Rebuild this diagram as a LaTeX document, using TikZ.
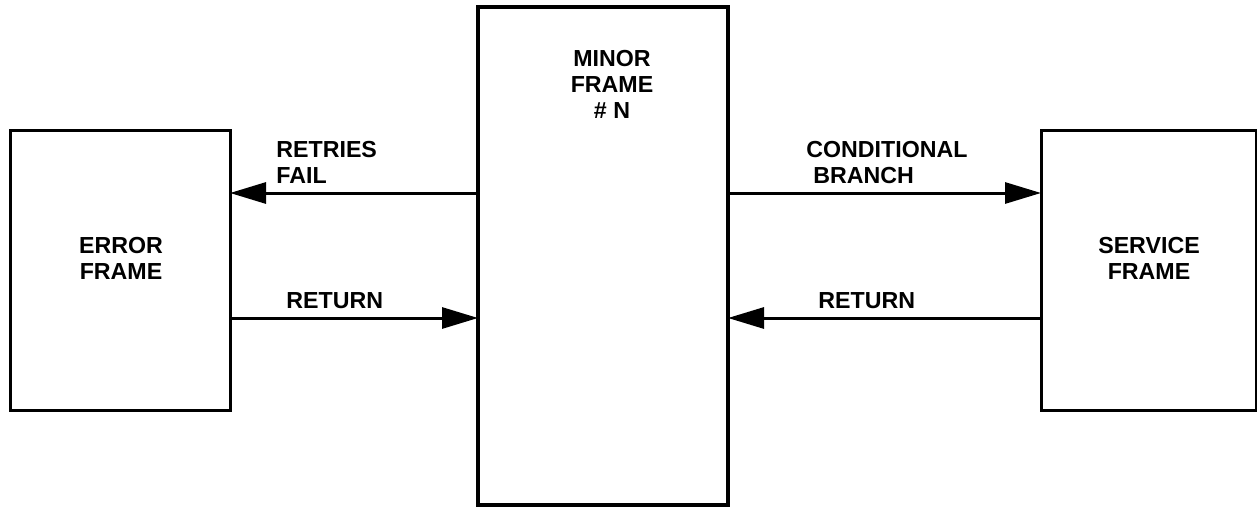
\documentclass[tikz,border=0pt]{standalone}
\usepackage{fontspec}
\setmainfont{Liberation Sans}
\usetikzlibrary{arrows.meta}
\begin{document}
\begin{tikzpicture}[x=0.5pt,y=-0.5pt,
  frame/.style={draw,line width=1.5pt,outer sep=0pt,inner sep=0pt},
  txt/.style={font=\fontsize{11.6}{13}\selectfont\bfseries,inner sep=0pt,align=center,anchor=north},
  lbl/.style={font=\fontsize{11.6}{13}\selectfont\bfseries,inner sep=0pt,align=left,anchor=north west},
  flow/.style={line width=1.5pt,-{Triangle[length=18pt,width=10.5pt]}}]
  \useasboundingbox (0,0) rectangle (1257,508);
% the three frames
  \node[frame,minimum width=110pt,minimum height=140pt] (error) at (120,270) {};
  \node[frame,line width=1.7pt,minimum width=125pt,minimum height=249pt] (minor) at (603,256) {};
  \node[frame,minimum width=107.5pt,minimum height=140pt] (service) at (1148.5,270) {};
  \node[txt] (errortxt) at (121,237) {ERROR\\FRAME};
  \node[txt] (minortxt) at (612,50) {MINOR\\FRAME\\\# N};
  \node[txt] (servicetxt) at (1149,237) {SERVICE\\FRAME};
% transfers between frames
  \coordinate (upper) at (0,193);
  \coordinate (lower) at (0,318);
  \draw[flow] (minor.west |- upper) -- (error.east |- upper);
  \draw[flow] (error.east |- lower) -- (minor.west |- lower);
  \draw[flow] (minor.east |- upper) -- (service.west |- upper);
  \draw[flow] (service.west |- lower) -- (minor.east |- lower);
  \node[lbl] (retries) at (276,141) {RETRIES\\FAIL};
  \node[lbl] (retleft) at (286,292) {RETURN};
  \node[lbl] (branch) at (806,141) {CONDITIONAL\\\hspace*{3.5pt}BRANCH};
  \node[lbl] (retright) at (818,292) {RETURN};
\end{tikzpicture}
\end{document}
